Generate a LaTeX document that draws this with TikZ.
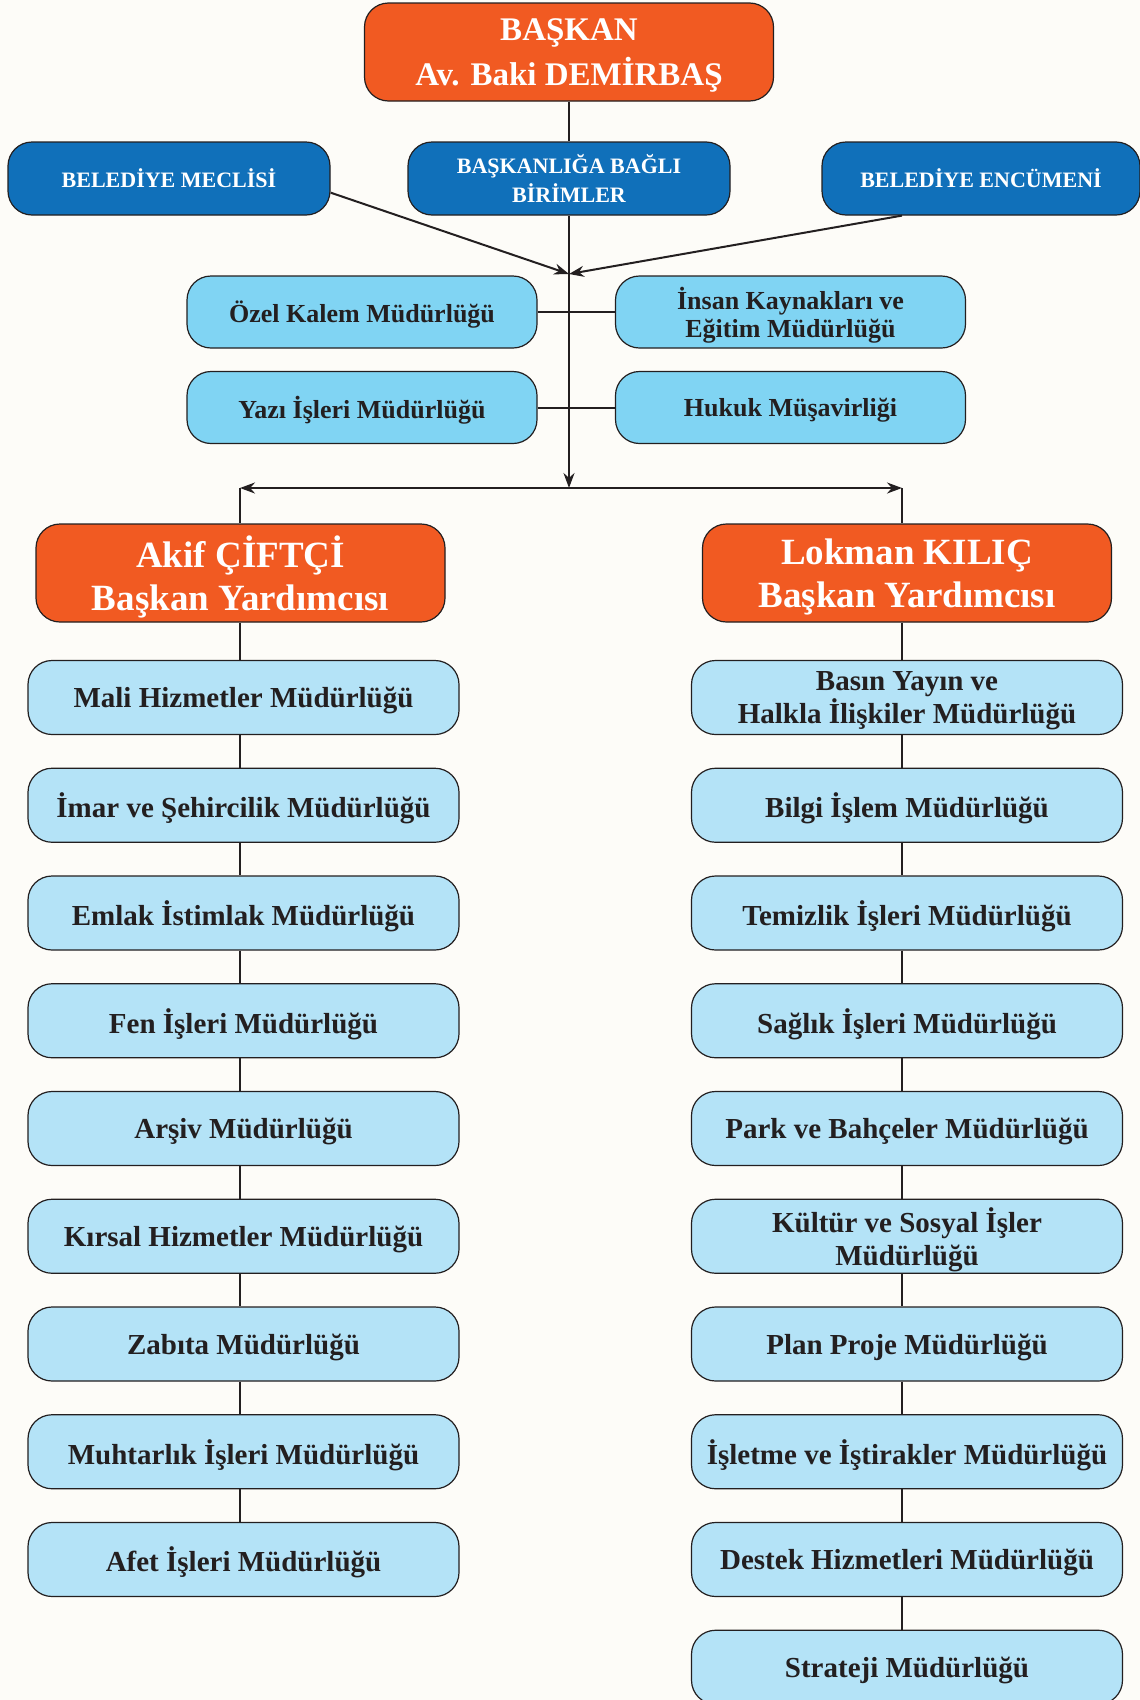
\documentclass[tikz,border=0pt]{standalone}
\usepackage{fontspec}
\setmainfont{Liberation Serif}
\usetikzlibrary{arrows.meta,calc}

\definecolor{pageback}{HTML}{FDFCF8}
\definecolor{edgegray}{HTML}{231F20}
\definecolor{headorange}{HTML}{F15A22}
\definecolor{councilblue}{HTML}{1070BA}
\definecolor{staffblue}{HTML}{80D4F3}
\definecolor{unitblue}{HTML}{B4E3F7}

\begin{document}
\begin{tikzpicture}[x=1pt, y=-1pt,
            every node/.style = {draw          = edgegray,
                                 line width    = 1.2pt,
                                 rounded corners = 24pt,
                                 align         = center,
                                 inner sep     = 0pt,
                                 text depth    = 0pt,
                                 text          = edgegray},
            chief/.style      = {fill = headorange, text = white,
                                 minimum width  = 409pt,
                                 minimum height = 98pt,
                                 font = \bfseries\fontsize{33}{45}\selectfont},
            deputy/.style     = {chief,
                                 font = \bfseries\fontsize{37}{43}\selectfont},
            council/.style    = {fill = councilblue, text = white,
                                 minimum width  = 322pt,
                                 minimum height = 73pt,
                                 font = \bfseries\fontsize{22}{29}\selectfont},
            staff/.style      = {fill = staffblue,
                                 minimum width  = 350pt,
                                 minimum height = 72pt,
                                 font = \bfseries\fontsize{26}{28}\selectfont},
            unit/.style       = {fill = unitblue,
                                 minimum width  = 431pt,
                                 minimum height = 74pt,
                                 font = \bfseries\fontsize{29}{33}\selectfont},
            link/.style       = {draw = edgegray, line width = 2pt},
            tip/.style        = {link, -{Stealth[length=15pt, width=11pt]}}
            ]
    \fill[pageback] (0,0) rectangle (1140,1700);
    \useasboundingbox (0,0) rectangle (1140,1700);

    % top of the chart
    \node[chief]   (baskan)   at (569,52)      {BAŞKAN\\Av. Baki DEMİRBAŞ};
    \node[council] (meclis)   at (169,178.5)   {BELEDİYE MECLİSİ};
    \node[council] (bagli)    at (569,178.5)   {BAŞKANLIĞA BAĞLI\\BİRİMLER};
    \node[council, minimum width = 318pt]
                   (encumeni) at (981,178.5)   {BELEDİYE ENCÜMENİ};

    \node[staff]   (ozel)     at (362,312)     {Özel Kalem Müdürlüğü};
    \node[staff]   (insan)    at (790.5,312)   {İnsan Kaynakları ve\\Eğitim Müdürlüğü};
    \node[staff]   (yazi)     at (362,407.5)   {Yazı İşleri Müdürlüğü};
    \node[staff]   (hukuk)    at (790.5,407.5) {Hukuk Müşavirliği};

    \path (569,274) coordinate (merge)
          (569,488) coordinate (split)
          (240,488) coordinate (lcorner)
          (902,488) coordinate (rcorner);

    \draw[link] (baskan) -- (bagli);
    \draw[tip]  (bagli)  -- (split);
    \draw[tip]  (meclis.-5) -- (merge);
    \draw[tip]  ($(encumeni.south)+(-79,0)$) -- (merge);
    \draw[link] (ozel) -- (insan);
    \draw[link] (yazi) -- (hukuk);
    \draw[link, {Stealth[length=15pt, width=11pt]}-{Stealth[length=15pt, width=11pt]}]
                (lcorner) -- (rcorner);

    % deputies
    \node[deputy]  (akif)     at (240.5,573)   {Akif ÇİFTÇİ\\Başkan Yardımcısı};
    \node[deputy]  (lokman)   at (907,573)     {Lokman KILIÇ\\Başkan Yardımcısı};
    \draw[link] (lcorner) -- (lcorner |- akif.north);
    \draw[link] (rcorner) -- (rcorner |- lokman.north);

    % left column
    \foreach \txt [count=\k from 0] in {Mali Hizmetler Müdürlüğü,
                                        İmar ve Şehircilik Müdürlüğü,
                                        Emlak İstimlak Müdürlüğü,
                                        Fen İşleri Müdürlüğü,
                                        Arşiv Müdürlüğü,
                                        Kırsal Hizmetler Müdürlüğü,
                                        Zabıta Müdürlüğü,
                                        Muhtarlık İşleri Müdürlüğü,
                                        Afet İşleri Müdürlüğü}
        \node[unit] (l\k) at (243.5, 697.5+107.75*\k) {\txt};

    % right column
    \foreach \txt [count=\k from 0] in {{Basın Yayın ve\\Halkla İlişkiler Müdürlüğü},
                                        Bilgi İşlem Müdürlüğü,
                                        Temizlik İşleri Müdürlüğü,
                                        Sağlık İşleri Müdürlüğü,
                                        Park ve Bahçeler Müdürlüğü,
                                        {Kültür ve Sosyal İşler\\Müdürlüğü},
                                        Plan Proje Müdürlüğü,
                                        İşletme ve İştirakler Müdürlüğü,
                                        Destek Hizmetleri Müdürlüğü,
                                        Strateji Müdürlüğü}
        \node[unit] (r\k) at (907, 697.5+107.75*\k) {\txt};

    \draw[link] (akif.south -| lcorner) -- (l0.north -| lcorner);
    \draw[link] (lokman.south -| rcorner) -- (r0.north -| rcorner);
    \foreach \k in {1,...,8}{
        \pgfmathtruncatemacro{\prev}{\k-1}
        \draw[link] (l\prev.south -| lcorner) -- (l\k.north -| lcorner);
    }
    \foreach \k in {1,...,9}{
        \pgfmathtruncatemacro{\prev}{\k-1}
        \draw[link] (r\prev.south -| rcorner) -- (r\k.north -| rcorner);
    }
\end{tikzpicture}
\end{document}
